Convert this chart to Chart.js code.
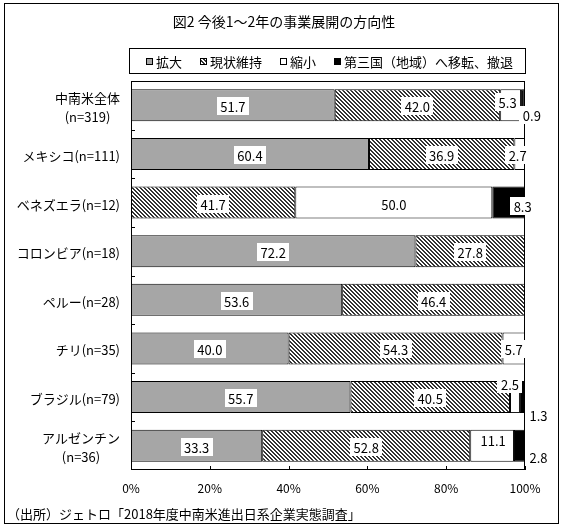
<!DOCTYPE html>
<html>
<head>
<meta charset="utf-8">
<script src="https://cdn.jsdelivr.net/npm/chart.js@4.4.0/dist/chart.umd.min.js"></script>
<style>
  html, body { margin: 0; padding: 0; background: #fff; }
</style>
</head>
<body>
<canvas id="chart" width="563" height="530"></canvas>
<script>
const FONT = '"Noto Sans CJK JP", "Noto Sans", sans-serif';

const chartTitle = '図2 今後1～2年の事業展開の方向性';
const sourceNote = '（出所）ジェトロ「2018年度中南米進出日系企業実態調査」';
const categories = [
    ['中南米全体', '(n=319)'],
    'メキシコ(n=111)',
    'ベネズエラ(n=12)',
    'コロンビア(n=18)',
    'ペルー(n=28)',
    'チリ(n=35)',
    'ブラジル(n=79)',
    ['アルゼンチン', '(n=36)']
];
const seriesNames = ['拡大', '現状維持', '縮小', '第三国（地域）へ移転、撤退'];
const expand   = [51.7, 60.4, 0,    72.2, 53.6, 40.0, 55.7, 33.3];
const maintain = [42.0, 36.9, 41.7, 27.8, 46.4, 54.3, 40.5, 52.8];
const shrink   = [5.3,  2.7,  50.0, 0,    0,    5.7,  2.5,  11.1];
const withdraw = [0.9,  0,    8.3,  0,    0,    0,    1.3,  2.8];
const xTicks = [0, 20, 40, 60, 80, 100];

// small labels that sit off their segment: [dx, dy] in px, keyed dataset-index
const labelShift = {
    '2-0': [-3, -3], '3-0': [9, 10],
    '2-1': [-2, 1],
    '3-2': [14, 3],
    '2-6': [-5, -13], '3-6': [16, 18],
    '2-7': [1, -6], '3-7': [19, 11]
};

function hatch() {
    const c = document.createElement('canvas');
    c.width = 4; c.height = 4;
    const g = c.getContext('2d');
    g.fillStyle = '#fff';
    g.fillRect(0, 0, 4, 4);
    g.fillStyle = '#333333';
    for (let i = 0; i < 4; i++) {
        g.fillRect(i, i, 1, 1);
        g.fillRect((i + 1) % 4, i, 1, 1);
    }
    return g.createPattern(c, 'repeat');
}

const fills = ['#a6a6a6', hatch(), '#ffffff', '#000000'];
const seriesData = [expand, maintain, shrink, withdraw];

function line(ctx, x1, y1, x2, y2) {
    ctx.beginPath();
    ctx.moveTo(x1, y1);
    ctx.lineTo(x2, y2);
    ctx.stroke();
}

const decor = {
    id: 'decor',
    afterDatasetsDraw(chart) {
        const ctx = chart.ctx;
        const a = chart.chartArea;
        const xs = chart.scales.x, ys = chart.scales.y;
        ctx.save();
        ctx.strokeStyle = '#000';
        ctx.lineWidth = 1;
        ctx.strokeRect(Math.round(a.left) + 0.5, Math.round(a.top) + 0.5,
            Math.round(a.right - a.left) - 1, Math.round(a.bottom - a.top) - 1);

        // inward ticks
        for (let k = 1; k < categories.length; k++) {
            const y = Math.round((ys.getPixelForValue(k - 1) + ys.getPixelForValue(k)) / 2) + 0.5;
            line(ctx, a.left, y, a.left + 4, y);
        }
        xTicks.forEach(v => {
            const x = Math.round(xs.getPixelForValue(v)) + 0.5;
            line(ctx, x, a.bottom, x, a.bottom - 4);
        });

        // value labels
        ctx.font = '13px ' + FONT;
        ctx.textAlign = 'center';
        ctx.textBaseline = 'middle';
        chart.data.datasets.forEach((ds, di) => {
            chart.getDatasetMeta(di).data.forEach((bar, i) => {
                const v = ds.data[i];
                if (!v) return;
                const txt = v.toFixed(1);
                const p = bar.getProps(['x', 'y', 'base'], true);
                const s = labelShift[di + '-' + i] || [0, 1];
                const x = (p.x + p.base) / 2 + s[0];
                const y = p.y + s[1];
                const w = Math.ceil(ctx.measureText(txt).width) + 6, h = 18;
                ctx.fillStyle = '#fff';
                ctx.fillRect(Math.round(x - w / 2), Math.round(y - h / 2), w, h);
                ctx.fillStyle = '#000';
                ctx.fillText(txt, x, y + 1);
            });
        });

        // category labels, multi-line ones centred as a block
        ctx.font = '13px ' + FONT;
        categories.forEach((c, i) => {
            const lines = Array.isArray(c) ? c : [c];
            const y0 = ys.getPixelForValue(i) + 2;
            if (lines.length === 1) {
                ctx.textAlign = 'right';
                ctx.fillText(lines[0], 120, y0);
            } else {
                const mw = Math.max(...lines.map(t => ctx.measureText(t).width));
                ctx.textAlign = 'center';
                lines.forEach((t, j) => ctx.fillText(t, 120 - mw / 2, y0 + (j - 0.5) * 19));
            }
        });
        ctx.restore();
    },
    afterDraw(chart) {
        const ctx = chart.ctx;
        ctx.save();
        ctx.strokeStyle = '#000';
        ctx.lineWidth = 1;
        ctx.strokeRect(4.5, 3.5, 554, 520);

        ctx.fillStyle = '#000';
        ctx.textBaseline = 'middle';
        ctx.textAlign = 'center';
        ctx.font = '14px ' + FONT;
        ctx.fillText(chartTitle, 284, 22);

        // legend box
        ctx.strokeRect(129.5, 48.5, 396, 25);
        ctx.font = '13px ' + FONT;
        ctx.textAlign = 'left';
        let x = 146;
        chart.data.datasets.forEach((ds, di) => {
            ctx.fillStyle = ds.backgroundColor;
            ctx.fillRect(x, 58, 7, 7);
            ctx.strokeRect(x + 0.5, 58.5, 6, 6);
            ctx.fillStyle = '#000';
            ctx.fillText(ds.label, x + 10, 62);
            x += 10 + ctx.measureText(ds.label).width + 18;
        });

        ctx.textAlign = 'left';
        ctx.fillText(sourceNote, 7, 514);
        ctx.restore();
    }
};

new Chart(document.getElementById('chart'), {
    type: 'bar',
    data: {
        labels: categories,
        datasets: seriesNames.map((name, i) => ({
            label: name,
            data: seriesData[i],
            backgroundColor: fills[i],
            borderColor: '#000',
            borderWidth: 1,
            borderSkipped: false,
            barPercentage: 0.66,
            categoryPercentage: 1
        }))
    },
    options: {
        indexAxis: 'y',
        responsive: false,
        animation: false,
        layout: { padding: { left: 0, top: 81, right: 38, bottom: 30 } },
        plugins: {
            legend: { display: false },
            title: { display: false },
            tooltip: { enabled: false }
        },
        scales: {
            x: {
                stacked: true,
                min: 0,
                max: 100,
                afterFit(s) { s.height = 30; },
                afterBuildTicks(s) { s.ticks = xTicks.map(v => ({ value: v })); },
                grid: { display: false, drawTicks: false },
                border: { display: false },
                ticks: {
                    color: '#000',
                    padding: 11,
                    font: { family: FONT, size: 12 },
                    callback: v => v + '%'
                }
            },
            y: {
                stacked: true,
                afterFit(s) { s.width = 131; },
                grid: { display: false, drawTicks: false },
                border: { display: false },
                ticks: { display: false }
            }
        }
    },
    plugins: [decor]
});
</script>
</body>
</html>
